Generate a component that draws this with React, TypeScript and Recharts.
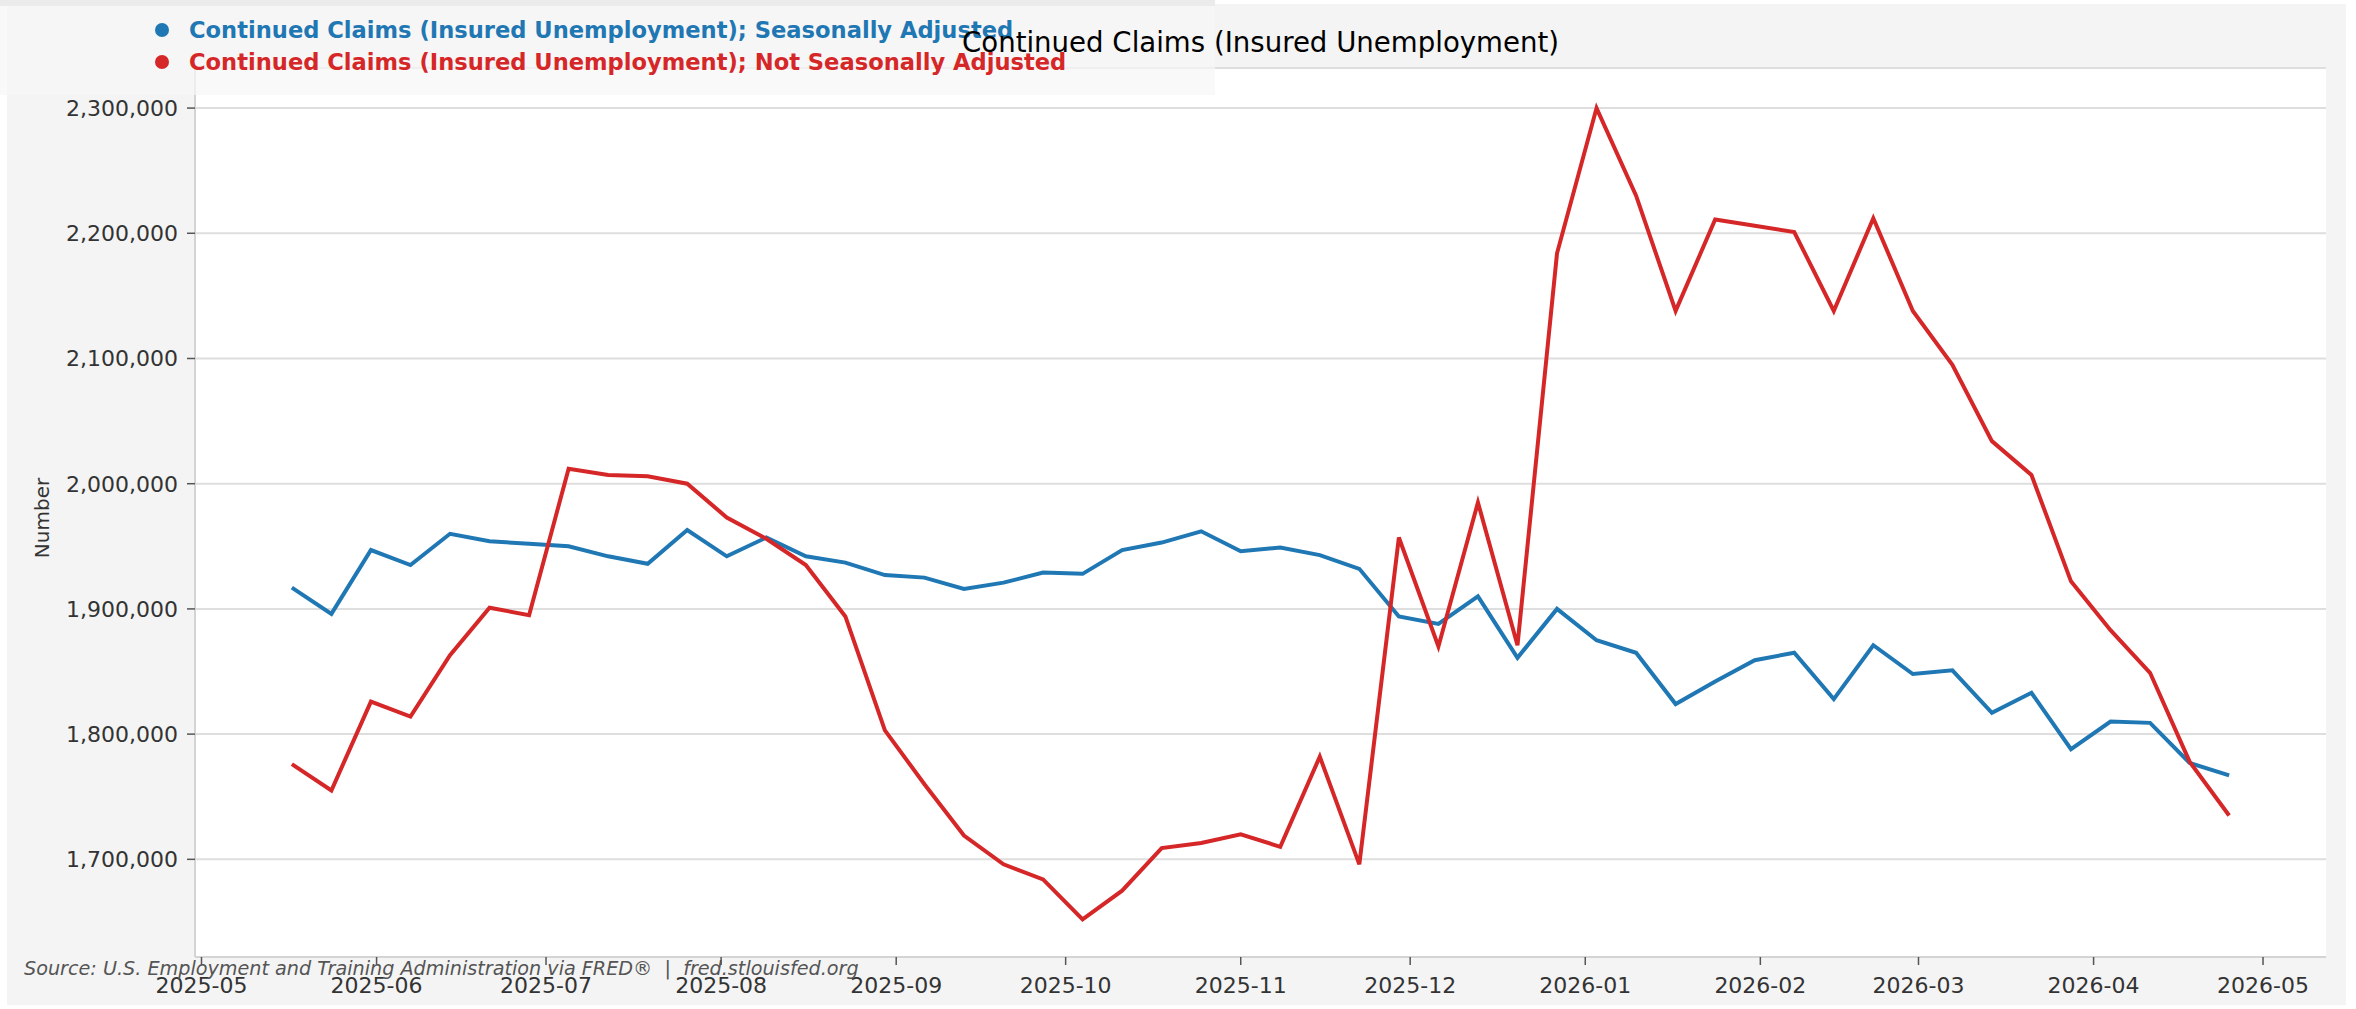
import React from "react";
import { LineChart, Line, XAxis, YAxis, CartesianGrid } from "recharts";

const weekEnding = [
  "2025-05-17", "2025-05-24", "2025-05-31", "2025-06-07", "2025-06-14", "2025-06-21", "2025-06-28",
  "2025-07-05", "2025-07-12", "2025-07-19", "2025-07-26", "2025-08-02", "2025-08-09", "2025-08-16",
  "2025-08-23", "2025-08-30", "2025-09-06", "2025-09-13", "2025-09-20", "2025-09-27", "2025-10-04",
  "2025-10-11", "2025-10-18", "2025-10-25", "2025-11-01", "2025-11-08", "2025-11-15", "2025-11-22",
  "2025-11-29", "2025-12-06", "2025-12-13", "2025-12-20", "2025-12-27", "2026-01-03", "2026-01-10",
  "2026-01-17", "2026-01-24", "2026-01-31", "2026-02-07", "2026-02-14", "2026-02-21", "2026-02-28",
  "2026-03-07", "2026-03-14", "2026-03-21", "2026-03-28", "2026-04-04", "2026-04-11", "2026-04-18",
  "2026-04-25",
];

const seasonallyAdjusted = [
  1917000, 1896000, 1947000, 1935000, 1960000, 1954000, 1952000, 1950000, 1942000, 1936000,
  1963000, 1942000, 1957000, 1942000, 1937000, 1927000, 1925000, 1916000, 1921000, 1929000,
  1928000, 1947000, 1953000, 1962000, 1946000, 1949000, 1943000, 1932000, 1894000, 1888000,
  1910000, 1861000, 1900000, 1875000, 1865000, 1824000, 1842000, 1859000, 1865000, 1828000,
  1871000, 1848000, 1851000, 1817000, 1833000, 1788000, 1810000, 1809000, 1777000, 1767000,
];

const notSeasonallyAdjusted = [
  1776000, 1755000, 1826000, 1814000, 1863000, 1901000, 1895000, 2012000, 2007000, 2006000,
  2000000, 1973000, 1956000, 1935000, 1894000, 1803000, 1760000, 1719000, 1696000, 1684000,
  1652000, 1675000, 1709000, 1713000, 1720000, 1710000, 1782000, 1696000, 1957000, 1870000,
  1985000, 1871000, 2184000, 2300000, 2230000, 2138000, 2211000, 2206000, 2201000, 2138000,
  2212000, 2138000, 2095000, 2034000, 2007000, 1922000, 1883000, 1849000, 1778000, 1735000,
];

const monthTicks = [
  "2025-05", "2025-06", "2025-07", "2025-08", "2025-09", "2025-10", "2025-11",
  "2025-12", "2026-01", "2026-02", "2026-03", "2026-04", "2026-05",
];

const yTicks = [1700000, 1800000, 1900000, 2000000, 2100000, 2200000, 2300000];

const seriesNames = [
  "Continued Claims (Insured Unemployment); Seasonally Adjusted",
  "Continued Claims (Insured Unemployment); Not Seasonally Adjusted",
];
const title = "Continued Claims (Insured Unemployment)";
const yLabel = "Number";
const source = "Source: U.S. Employment and Training Administration via FRED\u00ae  |  fred.stlouisfed.org";

const BLUE = "#1f77b4";
const RED = "#d62728";
const FONT = "'DejaVu Sans', sans-serif";

const toTime = (s: string) => {
  const [y, m, d] = s.split("-").map(Number);
  return Date.UTC(y, m - 1, d || 1);
};

const data = weekEnding.map((d, i) => ({
  t: toTime(d),
  sa: seasonallyAdjusted[i],
  nsa: notSeasonallyAdjusted[i],
}));

const tickTimes = monthTicks.map((m) => toTime(m));
const t0 = data[0].t;
const t1 = data[data.length - 1].t;
const pad = (t1 - t0) * 0.05;

const fmtMonth = (v: number) => {
  const d = new Date(v);
  return `${d.getUTCFullYear()}-${String(d.getUTCMonth() + 1).padStart(2, "0")}`;
};
const fmtNum = (v: number) => v.toLocaleString("en-US");

export default function App() {
  return (
    <div style={{ position: "relative", width: 2356, height: 1009, background: "#ffffff", fontFamily: FONT }}>
      <style>{"body{margin:0}"}</style>
      <div style={{ position: "absolute", left: 7, top: 4, width: 2339, height: 1001, background: "#f4f4f4" }} />
      <div style={{ position: "absolute", left: 0, top: 0 }}>
        <LineChart width={2356} height={1009} data={data} margin={{ top: 68, right: 30, bottom: 12, left: 0 }}>
          <CartesianGrid vertical={false} fill="#ffffff" stroke="#dedede" strokeWidth={2} />
          <XAxis
            dataKey="t"
            type="number"
            domain={[t0 - pad, t1 + pad]}
            ticks={tickTimes}
            tickFormatter={fmtMonth}
            allowDataOverflow
            height={40}
            tickSize={8}
            tickMargin={12}
            axisLine={{ stroke: "#d4d4d4", strokeWidth: 2 }}
            tickLine={{ stroke: "#555555", strokeWidth: 1.5 }}
            tick={{ fontSize: 22, fill: "#333333", fontFamily: FONT }}
          />
          <YAxis
            type="number"
            domain={[1622000, 2332000]}
            ticks={yTicks}
            tickFormatter={fmtNum}
            allowDataOverflow
            width={195}
            tickSize={8}
            tickMargin={9}
            axisLine={{ stroke: "#d4d4d4", strokeWidth: 2 }}
            tickLine={{ stroke: "#555555", strokeWidth: 1.5 }}
            tick={{ fontSize: 22, fill: "#333333", fontFamily: FONT }}
          />
          <Line type="linear" dataKey="sa" stroke={BLUE} strokeWidth={4} dot={false} isAnimationActive={false} />
          <Line type="linear" dataKey="nsa" stroke={RED} strokeWidth={4} dot={false} isAnimationActive={false} />
        </LineChart>
      </div>
      <div style={{ position: "absolute", left: 0, top: 0, width: 1215, height: 95, background: "rgba(246,246,246,0.7)" }} />
      <div style={{ position: "absolute", left: 0, top: 0, width: 1215, height: 6, background: "#ebebeb" }} />
      {seriesNames.map((name, i) => {
        const color = i === 0 ? BLUE : RED;
        const cy = i === 0 ? 30 : 62;
        return (
          <div key={name}>
            <div
              style={{
                position: "absolute",
                left: 155,
                top: cy - 7,
                width: 14,
                height: 14,
                borderRadius: 7,
                background: color,
              }}
            />
            <div
              style={{
                position: "absolute",
                left: 189,
                top: cy,
                transform: "translateY(-50%)",
                fontSize: 22.6,
                fontWeight: "bold",
                color,
                whiteSpace: "nowrap",
                lineHeight: 1,
              }}
            >
              {name}
            </div>
          </div>
        );
      })}
      <div
        style={{
          position: "absolute",
          left: 962,
          top: 43,
          transform: "translateY(-50%)",
          fontSize: 27.6,
          color: "#000000",
          whiteSpace: "nowrap",
          lineHeight: 1,
        }}
      >
        {title}
      </div>
      <div
        style={{
          position: "absolute",
          left: 42,
          top: 518,
          transform: "translate(-50%, -50%) rotate(-90deg)",
          fontSize: 20,
          color: "#333333",
          whiteSpace: "nowrap",
          lineHeight: 1,
        }}
      >
        {yLabel}
      </div>
      <div
        style={{
          position: "absolute",
          left: 24,
          top: 969,
          transform: "translateY(-50%)",
          fontSize: 19.2,
          fontStyle: "italic",
          color: "#555555",
          whiteSpace: "pre",
          lineHeight: 1,
        }}
      >
        {source}
      </div>
    </div>
  );
}
